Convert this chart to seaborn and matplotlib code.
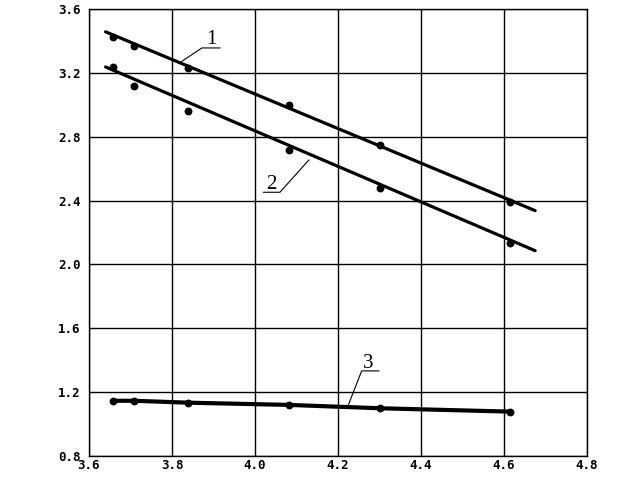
import numpy as np
import pandas as pd
import matplotlib
matplotlib.use("Agg")
import matplotlib.pyplot as plt
import seaborn as sns

# measured points (same x for all three series)
x_pts = [3.658, 3.708, 3.839, 4.082, 4.301, 4.614]
y1_pts = [3.427, 3.371, 3.233, 3.000, 2.745, 2.390]
y2_pts = [3.239, 3.118, 2.964, 2.719, 2.481, 2.136]
y3_pts = [1.146, 1.146, 1.134, 1.120, 1.099, 1.078]

# fitted straight lines for curves 1 and 2
x_fit = [3.640, 4.675]
y1_fit = [3.457, 2.337]
y2_fit = [3.237, 2.086]

x_ticks = [3.6, 3.8, 4.0, 4.2, 4.4, 4.6, 4.8]
y_ticks = [0.8, 1.2, 1.6, 2.0, 2.4, 2.8, 3.2, 3.6]

sns.set_style("white")

fig = plt.figure(figsize=(6.39, 4.79), dpi=100)
ax = fig.add_axes([89 / 639, 1 - 456 / 479, 498 / 639, 447 / 479])

pts = pd.DataFrame({"x": x_pts * 3,
                    "y": y1_pts + y2_pts + y3_pts,
                    "s": ["1"] * 6 + ["2"] * 6 + ["3"] * 6})
fit = pd.DataFrame({"x": x_fit * 2,
                    "y": y1_fit + y2_fit,
                    "s": ["1", "1", "2", "2"]})

sns.lineplot(data=fit, x="x", y="y", units="s", estimator=None,
             color="black", lw=2.3, ax=ax)
sns.lineplot(data=pts[pts.s == "3"], x="x", y="y", color="black",
             lw=3, ax=ax)
sns.scatterplot(data=pts, x="x", y="y", color="black", s=32,
                edgecolor="black", linewidth=0, ax=ax, zorder=5)

ax.set_xlim(3.6, 4.8)
ax.set_ylim(0.8, 3.6)
ax.set_xticks(x_ticks)
ax.set_yticks(y_ticks)
ax.set_xticklabels([f"{v:.1f}" for v in x_ticks])
ax.set_yticklabels([f"{v:.1f}" for v in y_ticks])
ax.grid(True, color="black", lw=1)
ax.set_axisbelow(True)
for sp in ax.spines.values():
    sp.set_color("black")
    sp.set_linewidth(1)
ax.tick_params(length=0, labelsize=9, colors="black")
ax.tick_params(axis="y", pad=6)
ax.tick_params(axis="x", pad=2)
for lbl in ax.get_xticklabels() + ax.get_yticklabels():
    lbl.set_family("DejaVu Sans Mono")
    lbl.set_weight("bold")
ax.set_xlabel("")
ax.set_ylabel("")

# curve labels with leader lines
labels = [
    ("1", [3.823, 3.872, 3.916], [3.271, 3.356, 3.356], 3.894, 3.381),
    ("2", [4.130, 4.060, 4.020], [2.655, 2.452, 2.452], 4.040, 2.473),
    ("3", [4.225, 4.257, 4.299], [1.120, 1.333, 1.333], 4.273, 1.349),
]
for txt, lx, ly, tx, ty in labels:
    ax.plot(lx, ly, color="black", lw=0.8)
    ax.text(tx, ty, txt, ha="center", va="baseline", fontsize=15,
            family="Liberation Serif", color="black")

fig.savefig("out.png", dpi=100)
